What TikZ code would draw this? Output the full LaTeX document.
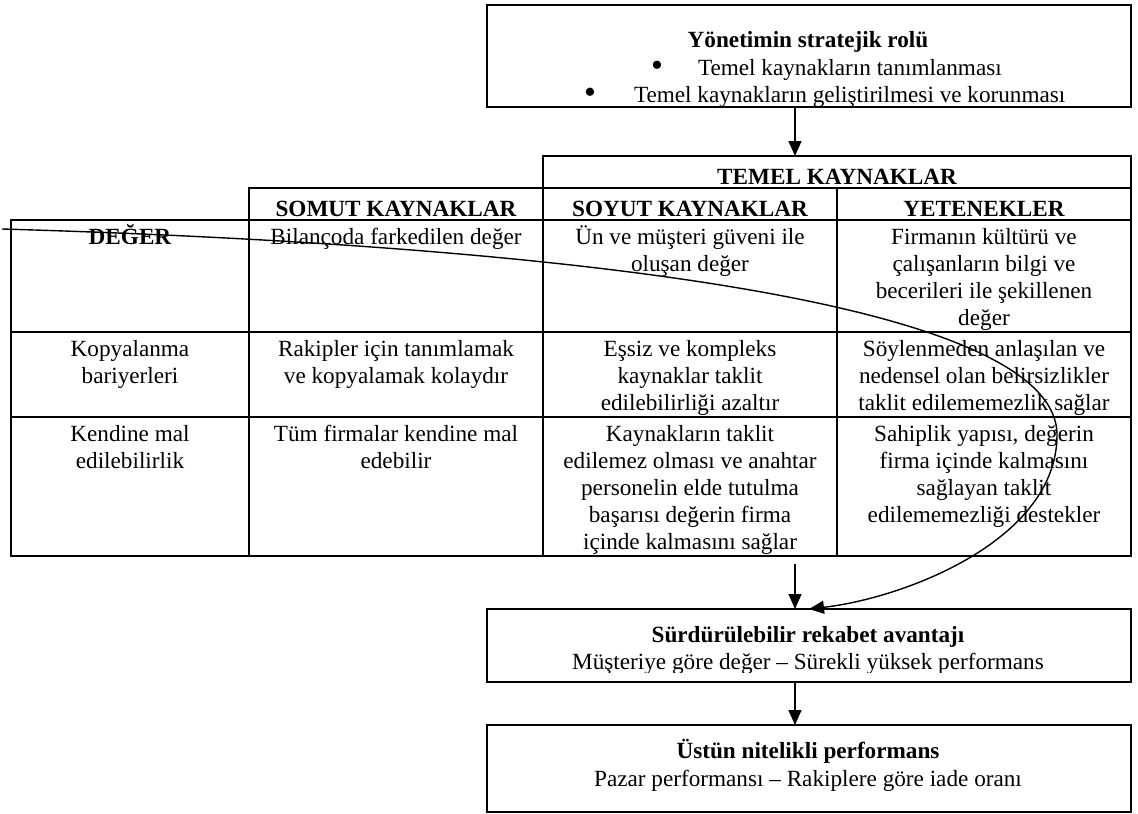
\documentclass[tikz,border=0pt]{standalone}
\usepackage{fontspec}
\setmainfont{Liberation Serif}
\usetikzlibrary{arrows.meta}

% strut that fixes the height of a first text line
\newcommand{\tstrut}{\rule{0pt}{20.7pt}}

% plain framed rectangle: name, x0, y0, x1, y1
\newcommand{\bx}[5]{%
  \pgfmathsetmacro{\mycw}{#4-#2}%
  \pgfmathsetmacro{\mych}{#5-#3}%
  \node[frame, minimum width=\mycw pt, minimum height=\mych pt] (#1) at ({(#2+#4)/2},{(#3+#5)/2}) {};%
}

% table cell: [text style] name, x0, y0, x1, y1, text
\newcommand{\tcell}[7][celltext]{%
  \bx{#2}{#3}{#4}{#5}{#6}%
  \node[#1] (#2t) at (#2.north) {\tstrut #7};%
}

\begin{document}
\begin{tikzpicture}[x=1pt, y=-1pt,
  every node/.style={font=\fontsize{23.2}{27}\selectfont, inner sep=0pt, outer sep=0pt},
  frame/.style={draw, line width=2pt, inner sep=0pt, outer sep=0pt},
  celltext/.style={align=center, anchor=north, yshift=-3.3pt},
  hdrtext/.style={celltext, font=\fontsize{23.2}{27}\selectfont\bfseries, yshift=-4.5pt},
  boldline/.style={font=\fontsize{23.2}{27}\selectfont\bfseries},
  bul/.style={anchor=base, font=\fontsize{34}{34}\selectfont},
  arr/.style={line width=1.4pt, -{Triangle[length=15pt,width=13pt]}},
  curv/.style={line width=1.4pt, -{Triangle[length=15pt,width=13pt]}}
]
\useasboundingbox (0,0) rectangle (1138,814);
\fill[white] (0,0) rectangle (1138,814);

% x position of the vertical arrows and of the curve's end
\coordinate (ax) at (795,0);
\coordinate (ct) at (809,0);

% ---- strategic role of management ----
\bx{top}{487}{5}{1131}{107}
\begin{scope}
  \clip (487,5) rectangle (1131,105);
  \node[anchor=base, boldline] (toptitle) at (808,47) {Yönetimin stratejik rolü};
  \node[bul] (b1) at (657,76) {•};
  \node[anchor=base west] (tl1) at (698,75) {Temel kaynakların tanımlanması};
  \node[bul] (b2) at (590,103) {•};
  \node[anchor=base west] (tl2) at (634,102) {Temel kaynakların geliştirilmesi ve korunması};
\end{scope}

% ---- table headers ----
\tcell[hdrtext]{temel}{543}{156}{1131}{188}{TEMEL KAYNAKLAR}
\tcell[hdrtext]{hsomut}{249}{188}{543}{220}{SOMUT KAYNAKLAR}
\tcell[hdrtext]{hsoyut}{543}{188}{837}{220}{SOYUT KAYNAKLAR}
\tcell[hdrtext]{hyet}{837}{188}{1131}{220}{YETENEKLER}

% ---- row 1 ----
\tcell[celltext,boldline]{c11}{11}{220}{249}{332}{DEĞER}
\tcell{c12}{249}{220}{543}{332}{Bilançoda farkedilen değer}
\tcell{c13}{543}{220}{837}{332}{Ün ve müşteri güveni ile\\oluşan değer}
\tcell{c14}{837}{220}{1131}{332}{Firmanın kültürü ve\\çalışanların bilgi ve\\becerileri ile şekillenen\\değer}

% ---- row 2 ----
\tcell{c21}{11}{332}{249}{417}{Kopyalanma\\bariyerleri}
\tcell{c22}{249}{332}{543}{417}{Rakipler için tanımlamak\\ve kopyalamak kolaydır}
\tcell{c23}{543}{332}{837}{417}{Eşsiz ve kompleks\\kaynaklar taklit\\edilebilirliği azaltır}
\tcell{c24}{837}{332}{1131}{417}{Söylenmeden anlaşılan ve\\nedensel olan belirsizlikler\\taklit edilememezlik sağlar}

% ---- row 3 ----
\tcell{c31}{11}{417}{249}{556}{Kendine mal\\edilebilirlik}
\tcell{c32}{249}{417}{543}{556}{Tüm firmalar kendine mal\\edebilir}
\tcell{c33}{543}{417}{837}{556}{Kaynakların taklit\\edilemez olması ve anahtar\\personelin elde tutulma\\başarısı değerin firma\\içinde kalmasını sağlar}
\tcell{c34}{837}{417}{1131}{556}{Sahiplik yapısı, değerin\\firma içinde kalmasını\\sağlayan taklit\\edilememezliği destekler}

% ---- sustainable competitive advantage ----
\bx{adv}{487}{609}{1131}{682}
\begin{scope}
  \clip (487,609) rectangle (1131,672);
  \node[anchor=base, boldline] (advtitle) at (808,642) {Sürdürülebilir rekabet avantajı};
  \node[anchor=base] (advline) at (808,669) {Müşteriye göre değer – Sürekli yüksek performans};
\end{scope}

% ---- superior performance ----
\bx{perf}{487}{725}{1131}{812}
\node[anchor=base, boldline] (perftitle) at (808,758) {Üstün nitelikli performans};
\node[anchor=base] (perfline) at (808,786) {Pazar performansı – Rakiplere göre iade oranı};

% ---- connectors ----
\draw[arr] (top.south -| ax) -- (temel.north -| ax);
\path (c33.south -| ax) ++(0,8) coordinate (a2s);
\draw[arr] (a2s) -- (adv.north -| ax);
\draw[arr] (adv.south -| ax) -- (perf.north -| ax);

% value line sweeping across the table into the advantage box
\coordinate (cs) at (2,229);
\draw[curv] (cs) .. controls (550,245) and (1057,300) .. (1057,435)
  .. controls (1057,540) and (905,598) .. (adv.north -| ct);
\end{tikzpicture}
\end{document}
